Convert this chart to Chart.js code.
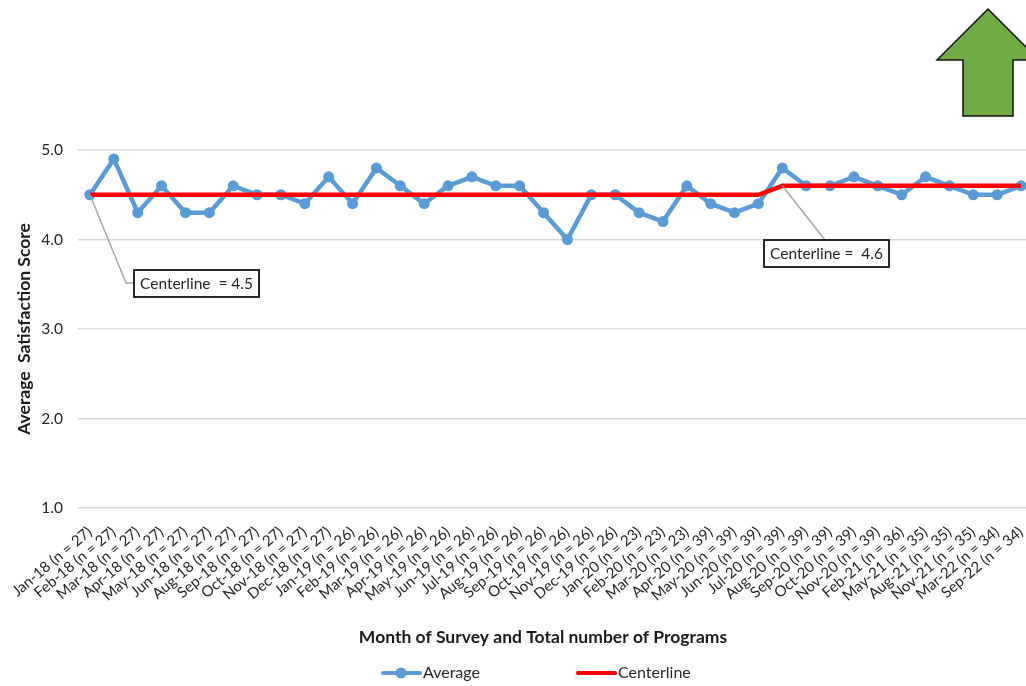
<!DOCTYPE html>
<html lang="en">
<head>
    <meta charset="UTF-8">
    <title>Average Satisfaction Score</title>
    <script src="https://cdn.jsdelivr.net/npm/chart.js"></script>
    <style>
        html, body { margin: 0; padding: 0; width: 1026px; height: 686px; overflow: hidden; background: #fff; }
    </style>
</head>
<body>
    <canvas id="scoreChart" width="1040" height="686"></canvas>

    <script>
        const months = ['Jan-18', 'Feb-18', 'Mar-18', 'Apr-18', 'May-18', 'Jun-18', 'Aug-18', 'Sep-18', 'Oct-18', 'Nov-18', 'Dec-18',
            'Jan-19', 'Feb-19', 'Mar-19', 'Apr-19', 'May-19', 'Jun-19', 'Jul-19', 'Aug-19', 'Sep-19', 'Oct-19', 'Nov-19', 'Dec-19',
            'Jan-20', 'Feb-20', 'Mar-20', 'Apr-20', 'May-20', 'Jun-20', 'Jul-20', 'Aug-20', 'Sep-20', 'Oct-20', 'Nov-20',
            'Feb-21', 'May-21', 'Aug-21', 'Nov-21', 'Mar-22', 'Sep-22'];
        const programs = [27, 27, 27, 27, 27, 27, 27, 27, 27, 27, 27,
            26, 26, 26, 26, 26, 26, 26, 26, 26, 26, 26, 26,
            23, 23, 23, 39, 39, 39, 39, 39, 39, 39, 39,
            36, 35, 35, 35, 34, 34];
        const average = [4.5, 4.9, 4.3, 4.6, 4.3, 4.3, 4.6, 4.5, 4.5, 4.4, 4.7,
            4.4, 4.8, 4.6, 4.4, 4.6, 4.7, 4.6, 4.6, 4.3, 4.0, 4.5, 4.5,
            4.3, 4.2, 4.6, 4.4, 4.3, 4.4, 4.8, 4.6, 4.6, 4.7, 4.6,
            4.5, 4.7, 4.6, 4.5, 4.5, 4.6];
        const centerline = [4.5, 4.5, 4.5, 4.5, 4.5, 4.5, 4.5, 4.5, 4.5, 4.5, 4.5,
            4.5, 4.5, 4.5, 4.5, 4.5, 4.5, 4.5, 4.5, 4.5, 4.5, 4.5, 4.5,
            4.5, 4.5, 4.5, 4.5, 4.5, 4.5, 4.6, 4.6, 4.6, 4.6, 4.6,
            4.6, 4.6, 4.6, 4.6, 4.6, 4.6];
        const labels = months.map((m, i) => `${m} (n = ${programs[i]})`);

        const FONT = 'Lato, "Open Sans", sans-serif';
        const TEXT = '#262626';
        const BLUE = '#5B9BD5';
        const RED = '#FF0000';

        function drawCallout(ctx, text, box, elbow, anchor) {
            ctx.strokeStyle = '#A6A6A6';
            ctx.lineWidth = 1.5;
            ctx.beginPath();
            ctx.moveTo(anchor.x, anchor.y);
            elbow.forEach(p => ctx.lineTo(p[0], p[1]));
            ctx.stroke();

            ctx.fillStyle = '#fff';
            ctx.fillRect(box.x, box.y, box.w, box.h);
            ctx.strokeStyle = '#111';
            ctx.lineWidth = 1.8;
            ctx.strokeRect(box.x, box.y, box.w, box.h);
            ctx.fillStyle = TEXT;
            ctx.font = `15.5px ${FONT}`;
            ctx.textAlign = 'center';
            ctx.textBaseline = 'middle';
            ctx.fillText(text, box.x + box.w / 2, box.y + box.h / 2);
        }

        // callouts, arrow, x title and legend sit where the original slide put them
        const extras = {
            id: 'extras',
            afterDatasetsDraw(chart) {
                const ctx = chart.ctx;
                const x = chart.scales.x;
                const y = chart.scales.y;
                ctx.save();

                drawCallout(ctx, 'Centerline  = 4.5', { x: 134, y: 270, w: 125, h: 27 }, [[126, 283], [134, 283]],
                    { x: x.getPixelForValue(0), y: y.getPixelForValue(centerline[0]) });
                drawCallout(ctx, 'Centerline =  4.6', { x: 764, y: 240, w: 125, h: 27 }, [[825, 240]],
                    { x: x.getPixelForValue(29), y: y.getPixelForValue(centerline[29]) });

                // up arrow, runs off the right edge
                ctx.beginPath();
                ctx.moveTo(988, 9);
                ctx.lineTo(1039, 60);
                ctx.lineTo(1013, 60);
                ctx.lineTo(1013, 116);
                ctx.lineTo(963, 116);
                ctx.lineTo(963, 60);
                ctx.lineTo(937, 60);
                ctx.closePath();
                ctx.fillStyle = '#70AD47';
                ctx.fill();
                ctx.strokeStyle = '#111';
                ctx.lineWidth = 1.5;
                ctx.stroke();

                ctx.fillStyle = '#1a1a1a';
                ctx.font = `bold 17.5px ${FONT}`;
                ctx.textAlign = 'center';
                ctx.textBaseline = 'middle';
                ctx.fillText('Month of Survey and Total number of Programs', 543, 637);

                // legend
                ctx.lineCap = 'round';
                ctx.lineWidth = 4;
                ctx.strokeStyle = BLUE;
                ctx.beginPath();
                ctx.moveTo(383, 673);
                ctx.lineTo(420, 673);
                ctx.stroke();
                ctx.fillStyle = BLUE;
                ctx.beginPath();
                ctx.arc(401, 673, 5.5, 0, Math.PI * 2);
                ctx.fill();
                ctx.strokeStyle = RED;
                ctx.beginPath();
                ctx.moveTo(578, 673);
                ctx.lineTo(615, 673);
                ctx.stroke();
                ctx.fillStyle = TEXT;
                ctx.font = `16px ${FONT}`;
                ctx.textAlign = 'left';
                ctx.fillText(chart.data.datasets[0].label, 423, 673);
                ctx.fillText(chart.data.datasets[1].label, 618, 673);

                ctx.restore();
            }
        };

        new Chart(document.getElementById('scoreChart').getContext('2d'), {
            type: 'line',
            data: {
                labels: labels,
                datasets: [
                    {
                        label: 'Average',
                        data: average,
                        borderColor: BLUE,
                        backgroundColor: BLUE,
                        borderWidth: 4.5,
                        pointRadius: 5.5,
                        pointBackgroundColor: BLUE,
                        pointBorderWidth: 0,
                        tension: 0,
                        order: 2
                    },
                    {
                        label: 'Centerline',
                        data: centerline,
                        borderColor: RED,
                        borderWidth: 4.5,
                        pointRadius: 0,
                        tension: 0,
                        order: 1
                    }
                ]
            },
            options: {
                responsive: false,
                animation: false,
                clip: false,
                layout: { padding: { top: 150, right: 7, left: 0, bottom: 0 } },
                plugins: {
                    legend: { display: false },
                    title: { display: false },
                    tooltip: { enabled: false }
                },
                scales: {
                    x: {
                        offset: true,
                        grid: { display: false },
                        border: { display: false },
                        ticks: {
                            autoSkip: false,
                            minRotation: 40,
                            maxRotation: 40,
                            padding: 7,
                            color: TEXT,
                            font: { family: FONT, size: 15 }
                        },
                        afterFit(scale) {
                            scale.height = 178;
                            scale.paddingLeft = 0;
                            scale.paddingRight = 0;
                        }
                    },
                    y: {
                        min: 1,
                        max: 5,
                        grid: { color: '#D9D9D9', lineWidth: 1.5, drawTicks: false },
                        border: { display: false },
                        ticks: {
                            stepSize: 1,
                            padding: 15,
                            color: TEXT,
                            font: { family: FONT, size: 15.5 },
                            callback: value => value.toFixed(1)
                        },
                        title: {
                            display: true,
                            text: 'Average  Satisfaction Score',
                            color: '#1a1a1a',
                            font: { family: FONT, size: 17.5, weight: 'bold' },
                            padding: { top: 14, bottom: 0 }
                        },
                        afterFit(scale) {
                            scale.width = 78;
                            scale.paddingTop = 0;
                            scale.paddingBottom = 0;
                        }
                    }
                }
            },
            plugins: [extras]
        });
    </script>
</body>
</html>
